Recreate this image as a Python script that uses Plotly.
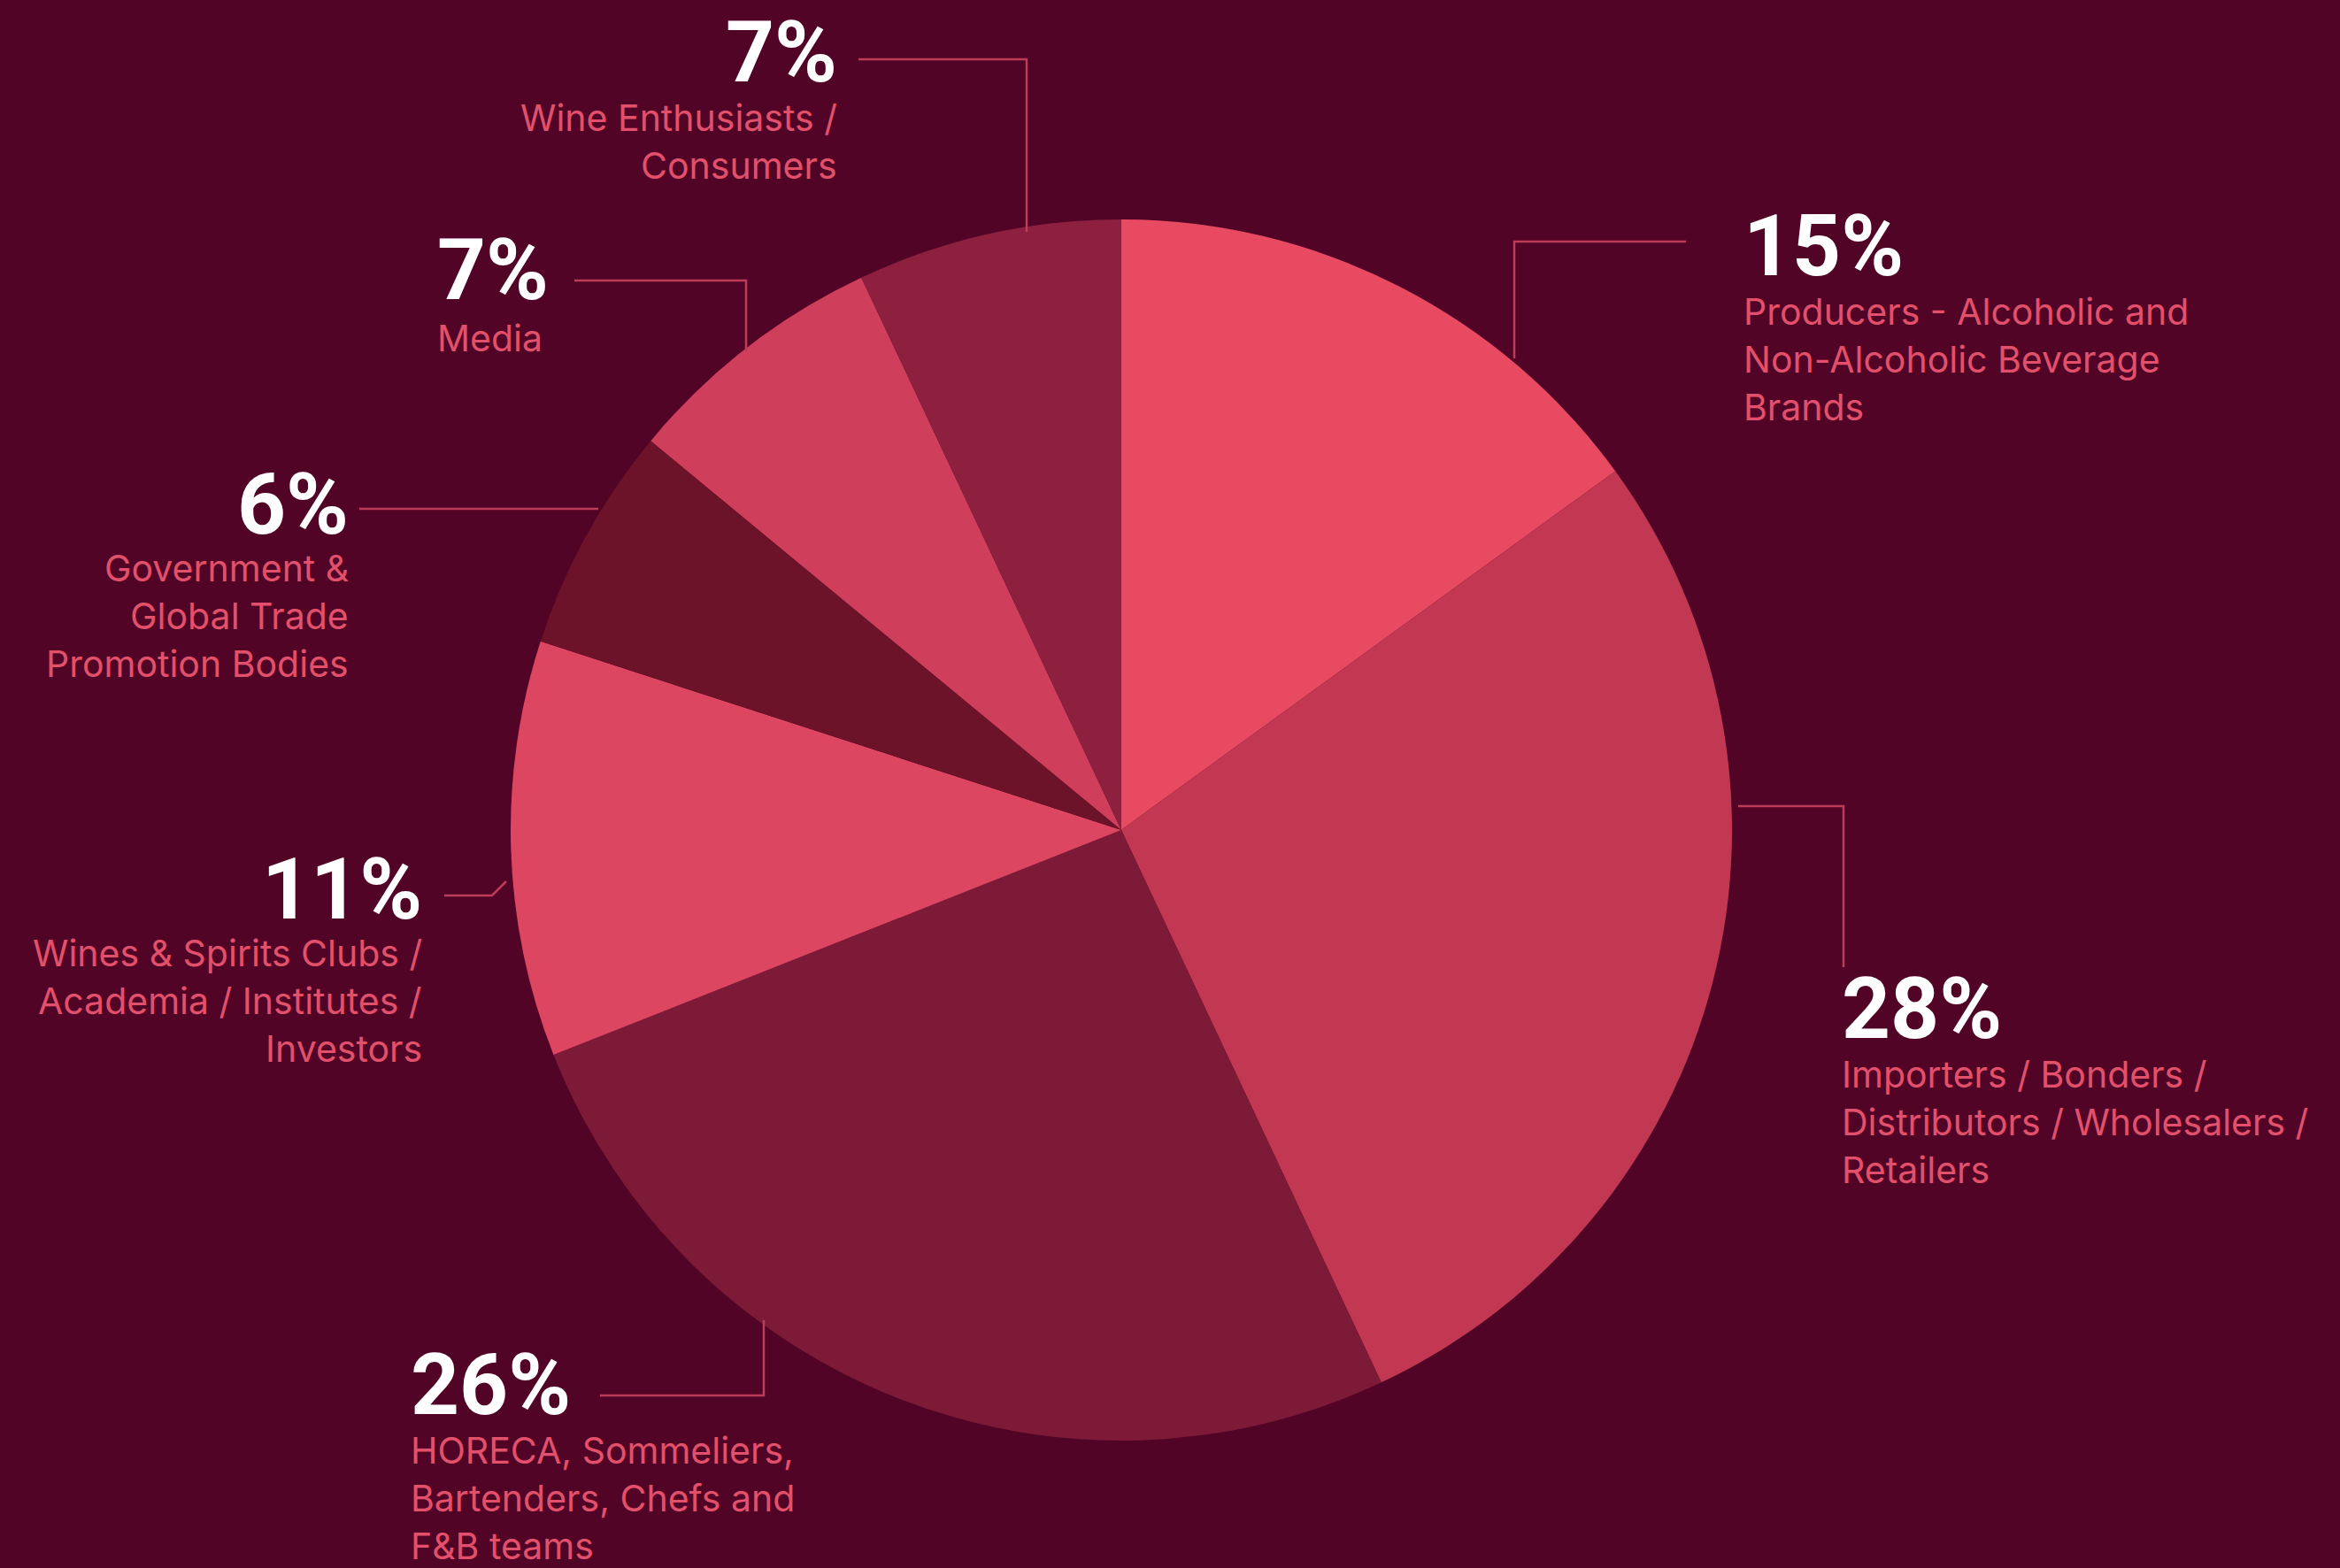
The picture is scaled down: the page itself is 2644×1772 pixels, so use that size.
import plotly.graph_objects as go

# ---- data ----
categories = [
    "Producers - Alcoholic and Non-Alcoholic Beverage Brands",
    "Importers / Bonders / Distributors / Wholesalers / Retailers",
    "HORECA, Sommeliers, Bartenders, Chefs and F&B teams",
    "Wines & Spirits Clubs / Academia / Institutes / Investors",
    "Government & Global Trade Promotion Bodies",
    "Media",
    "Wine Enthusiasts / Consumers",
]
values = [15, 28, 26, 11, 6, 7, 7]
label_lines = [
    ["Producers - Alcoholic and", "Non-Alcoholic Beverage", "Brands"],
    ["Importers / Bonders /", "Distributors / Wholesalers /", "Retailers"],
    ["HORECA, Sommeliers,", "Bartenders, Chefs and", "F&B teams"],
    ["Wines & Spirits Clubs /", "Academia / Institutes /", "Investors"],
    ["Government &", "Global Trade", "Promotion Bodies"],
    ["Media"],
    ["Wine Enthusiasts /", "Consumers"],
]
slice_colors = ["#E84A62", "#C23853", "#7D1A38", "#DD4660", "#6C1329", "#CF3F5B", "#8C203E"]

# ---- style / layout ----
W, H = 2644, 1772
BG = "#510426"
LABEL_COLOR = "#E2506B"
LINE_COLOR = "#BD3C58"
CX, CY, R = 1267, 938, 690

def px(x):
    return x / W

def py(y):
    return 1 - y / H

# label placement (pixel positions): anchor x, align, percent center y, first label line y
placements = [
    dict(x=1968, anchor="left", pct_y=278, lab_y=352),
    dict(x=2079, anchor="left", pct_y=1140, lab_y=1214),
    dict(x=462, anchor="left", pct_y=1565, lab_y=1639),
    dict(x=479, anchor="right", pct_y=1005, lab_y=1077),
    dict(x=396, anchor="right", pct_y=570, lab_y=642),
    dict(x=492, anchor="left", pct_y=305, lab_y=382),
    dict(x=948, anchor="right", pct_y=59, lab_y=133),
]
line_step = 54

leaders = [
    [(1905, 273), (1711, 273), (1711, 405)],
    [(1964, 911), (2083, 911), (2083, 1093)],
    [(678, 1577), (863, 1577), (863, 1492)],
    [(502, 1012), (556, 1012), (572, 996)],
    [(406, 575), (676, 575)],
    [(649, 317), (843, 317), (843, 398)],
    [(970, 67), (1160, 67), (1160, 262)],
]

fig = go.Figure(
    go.Pie(
        labels=categories,
        values=values,
        sort=False,
        direction="clockwise",
        rotation=0,
        marker=dict(colors=slice_colors, line=dict(width=0)),
        textinfo="none",
        hoverinfo="label+percent",
        domain=dict(x=[px(CX - R), px(CX + R)], y=[py(CY + R), py(CY - R)]),
    )
)

annotations = []
for v, lines, p in zip(values, label_lines, placements):
    annotations.append(dict(
        x=px(p["x"]), y=py(p["pct_y"]), xref="paper", yref="paper",
        text=f"<b>{v}%</b>", showarrow=False,
        xanchor=p["anchor"], yanchor="middle",
        font=dict(family="Roboto", size=96, color="#FFFFFF"),
    ))
    for i, ln in enumerate(lines):
        annotations.append(dict(
            x=px(p["x"]), y=py(p["lab_y"] + i * line_step), xref="paper", yref="paper",
            text=ln, showarrow=False,
            xanchor=p["anchor"], yanchor="middle",
            font=dict(family="Inter", size=41, color=LABEL_COLOR),
        ))

shapes = []
for pts in leaders:
    path = "M " + " L ".join(f"{px(x):.5f},{py(y):.5f}" for x, y in pts)
    shapes.append(dict(type="path", path=path, xref="paper", yref="paper",
                       line=dict(color=LINE_COLOR, width=2.5)))

fig.update_layout(
    width=W, height=H,
    margin=dict(l=0, r=0, t=0, b=0),
    paper_bgcolor=BG, plot_bgcolor=BG,
    showlegend=False,
    annotations=annotations,
    shapes=shapes,
)

fig.write_html(
    "out.html",
    config={"displayModeBar": False},
    post_script="document.body.style.margin='0';document.body.style.background='%s';" % BG,
)
